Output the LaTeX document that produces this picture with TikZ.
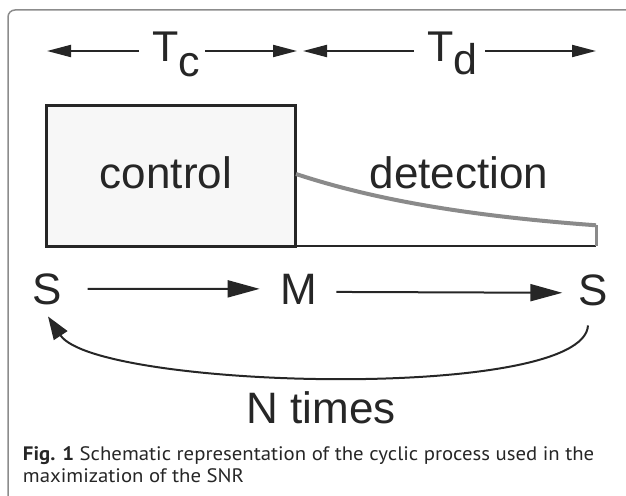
\documentclass[tikz,border=0pt]{standalone}
\usepackage{fontspec}
\usetikzlibrary{arrows.meta}
\newfontfamily\dfont{Liberation Sans}
\newfontfamily\cfont[FakeStretch=1.065]{PT Sans}
\definecolor{ink}{HTML}{262626}
\definecolor{curvegray}{HTML}{8A8A8A}
\definecolor{framegray}{HTML}{8C8C8C}
\definecolor{boxfill}{HTML}{F7F7F7}
\tikzset{
  lbl/.style={inner sep=0pt, outer sep=0pt, text=ink, font=\dfont\fontsize{44}{50}\selectfont},
  tlbl/.style={inner sep=0pt, outer sep=0pt, text=ink, font=\dfont\fontsize{43}{50}\selectfont},
  caplbl/.style={inner sep=0pt, outer sep=0pt, text=ink, font=\cfont\fontsize{19.5}{22}\selectfont},
  smallarrow/.style={draw=ink, line width=2pt, -{Triangle[length=24pt,width=12pt]}},
  bigarrow/.style={draw=ink, line width=2pt, -{Triangle[length=32pt,width=17pt]}},
  looparrow/.style={draw=ink, line width=2pt, -{Triangle[length=23pt,width=16pt]}},
  ctrlbox/.style={draw=ink, line width=3pt, fill=boxfill, inner sep=0pt, outer sep=0pt},
  signal/.style={draw=curvegray, line width=4pt},
  frame/.style={draw=framegray, line width=1.5pt, rounded corners=7pt}
}
\begin{document}
\begin{tikzpicture}[x=1pt,y=-1pt]
\useasboundingbox (0,0) rectangle (626,495);
\clip (0,0) rectangle (626,495);
% outer frame (open to the right and bottom)
\draw[frame] (8,520) -- (8,10) -- (650,10);
% control box
\node[ctrlbox, minimum width=249pt, minimum height=141pt] (box) at (170.5,175.5) {};
\node[lbl, anchor=base] (ctl) at (166,188) {control};
\node[lbl, anchor=base] (det) at (459,188) {detection};
% baseline and signal
\coordinate (dend) at (596,246);
\coordinate (cend) at (596,225);
\draw[draw=ink, line width=2pt] (box.south east) -- (dend);
\draw[signal] plot[domain=0:300, samples=80] ({296+\x},{240-66*exp(-0.005*\x)});
\draw[draw=curvegray, line width=3pt] (cend) -- (dend);
% time labels
\node[tlbl, anchor=base west] (Tc) at (152,62) {T\raisebox{-15pt}{c}};
\node[tlbl, anchor=base west] (Td) at (427,62) {T\raisebox{-13pt}{d}};
\coordinate (a1s) at (139,51);
\coordinate (a1e) at (47,51);
\coordinate (a2s) at (205,51);
\coordinate (a2e) at (297,51);
\coordinate (a3s) at (414,51);
\coordinate (a3e) at (303,51);
\coordinate (a4s) at (485,51);
\coordinate (a4e) at (596,51);
\draw[smallarrow] (a1s) -- (a1e);
\draw[smallarrow] (a2s) -- (a2e);
\draw[smallarrow] (a3s) -- (a3e);
\draw[smallarrow] (a4s) -- (a4e);
% states
\node[lbl, anchor=base] (S1) at (47,304) {S};
\node[lbl, anchor=base] (M) at (299,304) {M};
\node[lbl, anchor=base] (S2) at (593,305) {S};
\draw[bigarrow, shorten <=26pt, shorten >=21pt] (S1.east) -- (M.west);
\draw[bigarrow, shorten <=19pt, shorten >=16pt] ([yshift=-3pt]M.east) -- ([yshift=-3pt]S2.west);
\draw[looparrow] ([xshift=-5pt,yshift=-20pt]S2.south) .. controls (584,402) and (96,389) .. ([xshift=1pt,yshift=-12pt]S1.south);
\node[lbl, anchor=base] (N) at (321,423) {N times};
% caption
\node[caplbl, anchor=base west] (cap1) at (23,460)
  {\textbf{Fig. 1} Schematic representation of the cyclic process used in the};
\node[caplbl, anchor=base west] (cap2) at (23,482) {maximization of the SNR};
\end{tikzpicture}
\end{document}
